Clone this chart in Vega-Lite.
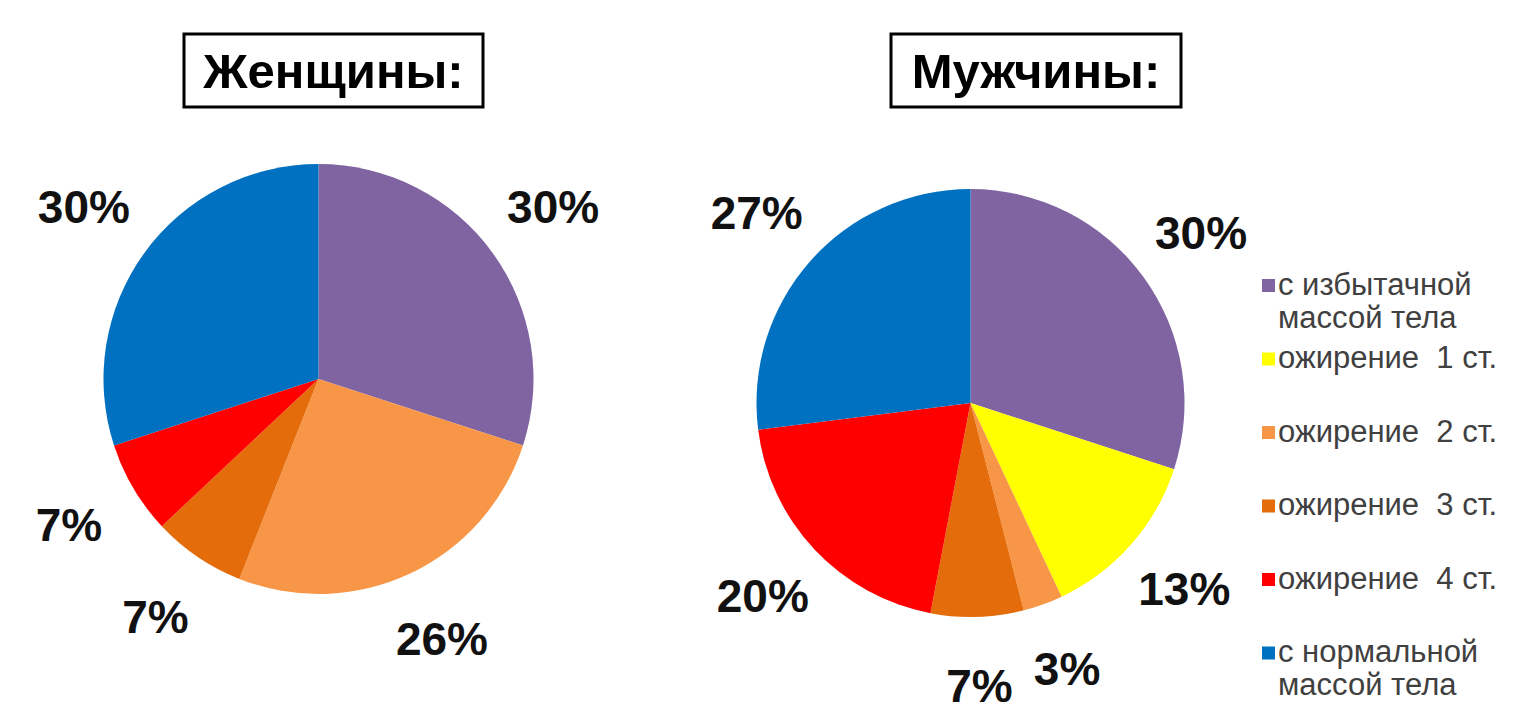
{
  "$schema": "https://vega.github.io/schema/vega-lite/v6.json",
  "background": "white",
  "padding": {"left": 35, "top": 32, "right": 5, "bottom": 5},
  "config": {"view": {"stroke": null}, "font": "Liberation Sans"},
  "datasets": {
    "women": [
      {"cat": "с избытачной массой тела", "v": 30, "o": 1, "lbl": "30%"},
      {"cat": "ожирение \u00a02 ст.", "v": 26, "o": 3, "lbl": "26%"},
      {"cat": "ожирение \u00a03 ст.", "v": 7, "o": 4, "lbl": "7%"},
      {"cat": "ожирение \u00a04 ст.", "v": 7, "o": 5, "lbl": "7%"},
      {"cat": "с нормальной массой тела", "v": 30, "o": 6, "lbl": "30%"}
    ],
    "men": [
      {"cat": "с избытачной массой тела", "v": 30, "o": 1, "lbl": "30%"},
      {"cat": "ожирение \u00a01 ст.", "v": 13, "o": 2, "lbl": "13%"},
      {"cat": "ожирение \u00a02 ст.", "v": 3, "o": 3, "lbl": "3%"},
      {"cat": "ожирение \u00a03 ст.", "v": 7, "o": 4, "lbl": "7%"},
      {"cat": "ожирение \u00a04 ст.", "v": 20, "o": 5, "lbl": "20%"},
      {"cat": "с нормальной массой тела", "v": 27, "o": 6, "lbl": "27%"}
    ]
  },
  "bounds": "flush",
  "spacing": 707,
  "resolve": {
    "scale": {"color": "independent", "theta": "independent"},
    "legend": {"color": "independent"}
  },
  "hconcat": [
    {
      "bounds": "flush",
      "spacing": 10,
      "vconcat": [
        {
          "width": 299,
          "height": 73,
          "view": {"stroke": "black", "strokeWidth": 3},
          "data": {"values": [{"t": "Женщины:"}]},
          "mark": {"type": "text", "fontSize": 49, "fontWeight": "bold", "font": "Liberation Sans", "baseline": "middle", "align": "center", "dy": 2, "color": "#000000"},
          "encoding": {"text": {"field": "t", "type": "nominal"}}
        },
        {
          "width": 269,
          "height": 524,
          "data": {"name": "women"},
          "encoding": {
            "theta": {"field": "v", "type": "quantitative", "stack": true},
            "order": {"field": "o", "type": "quantitative"}
          },
          "layer": [
            {
              "mark": {"type": "arc", "radius": 215},
              "encoding": {
                "color": {
                  "field": "cat",
                  "type": "nominal",
                  "scale": {
                    "domain": ["с избытачной массой тела", "ожирение \u00a01 ст.", "ожирение \u00a02 ст.", "ожирение \u00a03 ст.", "ожирение \u00a04 ст.", "с нормальной массой тела"],
                    "range": ["#8064A2", "#FFFF00", "#F79646", "#E46C0A", "#FF0000", "#0070C0"]
                  },
                  "legend": null
                }
              }
            },
            {
              "mark": {"type": "text", "radius": 290, "fontSize": 46, "fontWeight": "bold", "font": "Liberation Sans", "color": "#111111"},
              "encoding": {"text": {"field": "lbl", "type": "nominal"}}
            }
          ]
        }
      ]
    },
    {
      "bounds": "flush",
      "spacing": 10,
      "vconcat": [
        {
          "width": 290,
          "height": 73,
          "view": {"stroke": "black", "strokeWidth": 3},
          "data": {"values": [{"t": "Мужчины:"}]},
          "mark": {"type": "text", "fontSize": 49, "fontWeight": "bold", "font": "Liberation Sans", "baseline": "middle", "align": "center", "dy": 2, "color": "#000000"},
          "encoding": {"text": {"field": "t", "type": "nominal"}}
        },
        {
          "width": 159,
          "height": 572,
          "data": {"name": "men"},
          "encoding": {
            "theta": {"field": "v", "type": "quantitative", "stack": true},
            "order": {"field": "o", "type": "quantitative"}
          },
          "layer": [
            {
              "mark": {"type": "arc", "radius": 214},
              "encoding": {
                "color": {
                  "field": "cat",
                  "type": "nominal",
                  "scale": {
                    "domain": ["с избытачной массой тела", "ожирение \u00a01 ст.", "ожирение \u00a02 ст.", "ожирение \u00a03 ст.", "ожирение \u00a04 ст.", "с нормальной массой тела"],
                    "range": ["#8064A2", "#FFFF00", "#F79646", "#E46C0A", "#FF0000", "#0070C0"]
                  },
                  "legend": {
                    "orient": "none",
                    "legendX": 362,
                    "legendY": 236,
                    "title": null,
                    "padding": 0,
                    "symbolType": "square",
                    "symbolSize": 169,
                    "symbolStrokeWidth": 0,
                    "labelFontSize": 31,
                    "labelFont": "Liberation Sans",
                    "labelColor": "#404040",
                    "labelLimit": 0,
                    "labelOffset": -6,
                    "gridAlign": "all",
                    "rowPadding": 8.5,
                    "labelExpr": "split(replace(datum.label, ' массой', '|массой'), '|')"
                  }
                }
              }
            },
            {
              "mark": {"type": "text", "radius": 285, "fontSize": 46, "fontWeight": "bold", "font": "Liberation Sans", "color": "#111111"},
              "encoding": {"text": {"field": "lbl", "type": "nominal"}}
            }
          ]
        }
      ]
    }
  ]
}
